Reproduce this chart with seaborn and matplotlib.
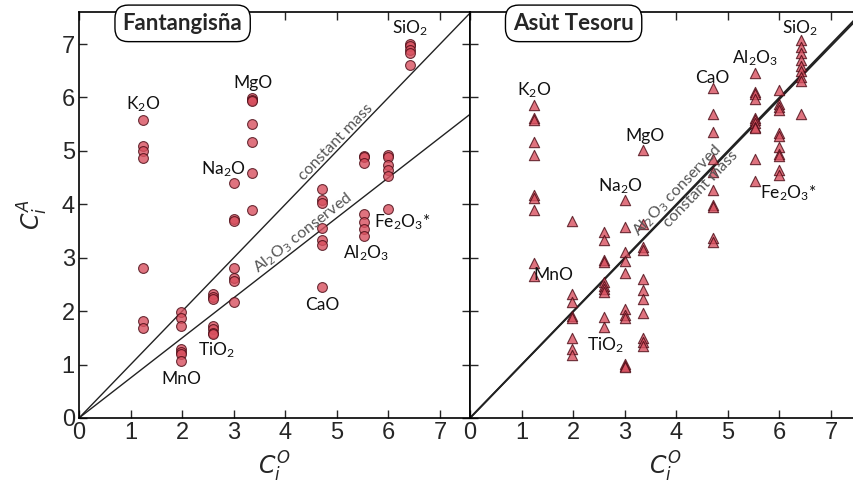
import numpy as np
import pandas as pd
import matplotlib
matplotlib.use("Agg")
import matplotlib.pyplot as plt
import seaborn as sns

# ---------------- data ----------------
oxides = ["K2O", "MnO", "TiO2", "Na2O", "MgO", "CaO", "Al2O3", "Fe2O3", "SiO2"]
oxide_labels = [r"$\mathregular{K_2O}$", "MnO", r"$\mathregular{TiO_2}$", r"$\mathregular{Na_2O}$",
                "MgO", "CaO", r"$\mathregular{Al_2O_3}$", r"$\mathregular{Fe_2O_3}$*", r"$\mathregular{SiO_2}$"]
c_orig = [1.25, 1.97, 2.60, 3.00, 3.36, 4.71, 5.53, 6.00, 6.41]

fant_K2O = [5.57, 5.09, 4.99, 4.87, 2.80, 1.82, 1.69]
fant_MnO = [1.98, 1.87, 1.72, 1.30, 1.24, 1.20, 1.07]
fant_TiO2 = [2.33, 2.27, 2.22, 1.72, 1.67, 1.60, 1.57]
fant_Na2O = [4.39, 3.73, 3.68, 2.80, 2.62, 2.56, 2.17]
fant_MgO = [5.99, 5.96, 5.94, 5.51, 5.17, 4.59, 3.90]
fant_CaO = [4.29, 4.08, 4.02, 3.55, 3.33, 3.23, 2.45]
fant_Al2O3 = [4.91, 4.88, 4.77, 3.82, 3.66, 3.53, 3.41]
fant_Fe2O3 = [4.93, 4.88, 4.74, 4.64, 4.53, 3.91]
fant_SiO2 = [7.01, 6.97, 6.89, 6.83, 6.60]

asut_K2O = [5.85, 5.62, 5.58, 5.17, 4.93, 4.18, 4.12, 3.90, 2.90, 2.65]
asut_MnO = [3.69, 2.33, 2.18, 1.91, 1.87, 1.49, 1.30, 1.18]
asut_TiO2 = [3.49, 3.33, 2.95, 2.92, 2.55, 2.48, 2.42, 2.35, 1.90, 1.71]
asut_Na2O = [4.08, 3.57, 3.10, 2.94, 2.71, 2.04, 1.92, 1.88, 1.02, 0.98, 0.96]
asut_MgO = [5.02, 3.64, 3.20, 3.15, 2.60, 2.40, 2.22, 1.96, 1.49, 1.42, 1.35]
asut_CaO = [6.17, 5.70, 5.36, 4.85, 4.61, 4.27, 3.99, 3.95, 3.37, 3.30]
asut_Al2O3 = [6.45, 6.10, 6.06, 5.97, 5.62, 5.58, 5.52, 5.45, 5.42, 4.85, 4.44]
asut_Fe2O3 = [6.14, 5.88, 5.83, 5.77, 5.33, 5.27, 5.08, 4.95, 4.91, 4.64, 4.55]
asut_SiO2 = [7.08, 6.95, 6.83, 6.70, 6.58, 6.49, 6.39, 6.30, 5.70]

fant_slopes = {"constant mass": 1.0, "Al2O3 conserved": 0.75}
asut_slopes = {"constant mass": 1.0, "Al2O3 conserved": 0.995}

fant_label_pos = [(1.24, 5.88), (1.99, 0.73), (2.67, 1.27), (2.79, 4.66), (3.38, 6.28),
                  (4.71, 2.12), (5.56, 3.09), (6.26, 3.67), (6.41, 7.30)]
asut_label_pos = [(1.25, 6.14), (1.61, 2.68), (2.62, 1.37), (2.91, 4.34), (3.39, 5.28),
                  (4.69, 6.37), (5.52, 6.74), (6.16, 4.21), (6.40, 7.30)]

titles = ["Fantangisña", "Asùt Tesoru"]


def make_df(prefix):
    rows = []
    g = globals()
    for ox, xo in zip(oxides, c_orig):
        for v in g[f"{prefix}_{ox}"]:
            rows.append({"oxide": ox, "CO": xo, "CA": v})
    return pd.DataFrame(rows)


df_fant = make_df("fant")
df_asut = make_df("asut")

# ---------------- style ----------------
sns.set_style("ticks")
plt.rcParams["font.family"] = ["Liberation Sans Narrow", "Liberation Sans", "DejaVu Sans"]
plt.rcParams["mathtext.fontset"] = "dejavusans"

W, H = 854, 492
fig = plt.figure(figsize=(W / 100, H / 100), dpi=100)
ax_w = 391 / W
ax_h = 406 / H
bottom = (H - 418) / H
axL = fig.add_axes([79 / W, bottom, ax_w, ax_h])
axR = fig.add_axes([470 / W, bottom, ax_w, ax_h])

face = "#d8505f"
edge = "#4a0a14"
lab_font = dict(family=["Lato", "DejaVu Sans"], fontsize=12.5, color="#111111")
line_font = dict(family=["Lato", "DejaVu Sans"], fontsize=11.5, color="#555555")

for ax, df, marker, size, slopes, lpos, title in [
    (axL, df_fant, "o", 50, fant_slopes, fant_label_pos, titles[0]),
    (axR, df_asut, "^", 55, asut_slopes, asut_label_pos, titles[1]),
]:
    ax.set_xlim(0, 7.58)
    ax.set_ylim(0, 7.6)
    xs = np.array([0, 8.0])
    lw = 1.0 if ax is axL else 1.3
    ax.plot(xs, slopes["constant mass"] * xs, color="#222222", lw=lw, zorder=1)
    ax.plot(xs, slopes["Al2O3 conserved"] * xs, color="#222222", lw=lw, zorder=1)
    sns.scatterplot(data=df, x="CO", y="CA", marker=marker, s=size, color=face,
                    edgecolor=edge, linewidth=0.8, alpha=0.8, ax=ax, zorder=3, legend=False)
    for lab, (px, py) in zip(oxide_labels, lpos):
        ax.text(px, py, lab, ha="center", va="center", zorder=4, **lab_font)
    ax.set_xticks(range(0, 8))
    ax.set_yticks(range(0, 8))
    ax.tick_params(direction="in", length=6, width=1, top=True, right=True,
                   labelsize=17, pad=3)
    for sp in ax.spines.values():
        sp.set_linewidth(1.2)
        sp.set_color("black")
    ax.set_xlabel(r"$C_i^O$", fontsize=17, labelpad=4)
    ax.text(0.265, 0.972, title, transform=ax.transAxes, ha="center", va="center",
            fontsize=16, fontweight="bold", family=["Lato", "DejaVu Sans"], zorder=6,
            bbox=dict(boxstyle="round,pad=0.35,rounding_size=0.6", fc="white", ec="black", lw=1.0))

# line labels
axL.text(5.08, 5.08, "constant mass", rotation=45, transform_rotates_text=True,
         rotation_mode="anchor", ha="center", va="bottom", **line_font)
axL.text(4.45, 0.75 * 4.45, r"Al$_2$O$_3$ conserved", rotation=np.degrees(np.arctan(0.75)),
         transform_rotates_text=True, rotation_mode="anchor", ha="center", va="bottom", **line_font)
axR.text(4.15, 4.15, r"Al$_2$O$_3$ conserved", rotation=45, transform_rotates_text=True,
         rotation_mode="anchor", ha="center", va="bottom", **line_font)
axR.text(4.38, 4.38, "constant mass", rotation=45, transform_rotates_text=True,
         rotation_mode="anchor", ha="center", va="top", **line_font)

axL.set_ylabel(r"$C_i^A$", fontsize=17, labelpad=8)
axR.set_ylabel("")
axR.tick_params(labelleft=False)

fig.savefig("out.png", dpi=100)
